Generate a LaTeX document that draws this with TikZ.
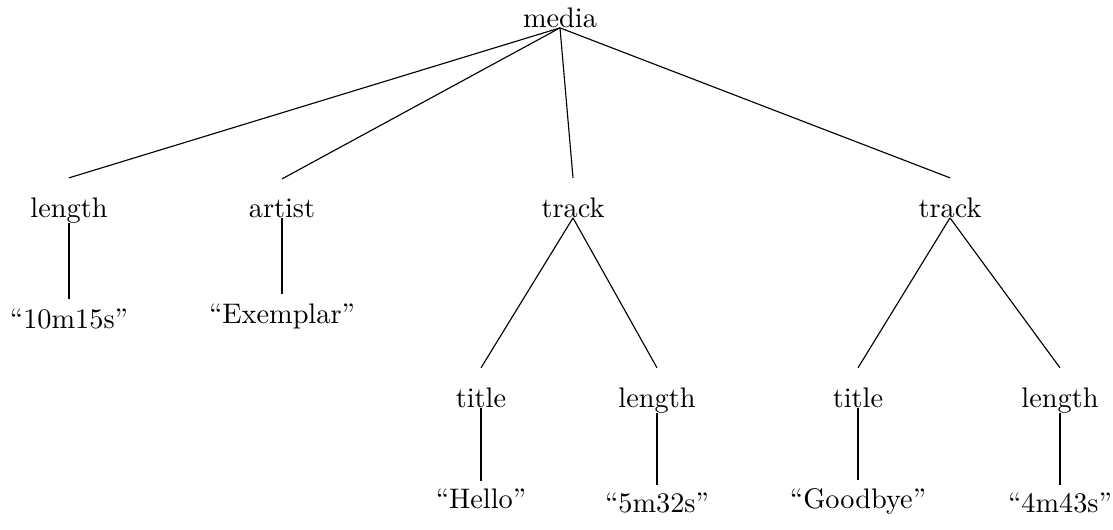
\documentclass[tikz,border=0pt]{standalone}
\begin{document}
\begin{tikzpicture}[x=0.3534pt,y=-0.3534pt,
  lbl/.style={inner sep=0pt, anchor=base},
  edge/.style={line width=0.4pt}]
\useasboundingbox (0,0) rectangle (1113,529);
% root
\node[lbl] (media) at (560,27) {media};
% level 1
\node[lbl] (len1)   at (69,217)  {length};
\node[lbl] (artist) at (282,217) {artist};
\node[lbl] (track1) at (573,217) {track};
\node[lbl] (track2) at (950,217) {track};
% leaves of level 1
\node[lbl] (v1) at (69,328)  {“10m15s”};
\node[lbl] (v2) at (282,323) {“Exemplar”};
% level 2
\node[lbl] (title1) at (481,407)  {title};
\node[lbl] (len2)   at (657,407)  {length};
\node[lbl] (title2) at (858,407)  {title};
\node[lbl] (len3)   at (1060,407) {length};
% leaves of level 2
\node[lbl] (v3) at (481,508)  {“Hello”};
\node[lbl] (v4) at (657,512)  {“5m32s”};
\node[lbl] (v5) at (858,508)  {“Goodbye”};
\node[lbl] (v6) at (1060,512) {“4m43s”};
% edges
\draw[edge] (media.south) -- ([yshift=6.7pt]len1.north);
\draw[edge] (media.south) -- ([yshift=6.7pt]artist.north);
\draw[edge] (media.south) -- ([yshift=6.7pt]track1.north);
\draw[edge] (media.south) -- ([yshift=6.7pt]track2.north);
\draw[edge] (len1.south) -- ([yshift=3pt]v1.north);
\draw[edge] (artist.south) -- ([yshift=3pt]v2.north);
\draw[edge] (track1.south) -- ([yshift=6.7pt]title1.north);
\draw[edge] (track1.south) -- ([yshift=6.7pt]len2.north);
\draw[edge] (track2.south) -- ([yshift=6.7pt]title2.north);
\draw[edge] (track2.south) -- ([yshift=6.7pt]len3.north);
\draw[edge] (title1.south) -- ([yshift=2.5pt]v3.north);
\draw[edge] (len2.south) -- ([yshift=2.5pt]v4.north);
\draw[edge] (title2.south) -- ([yshift=2.5pt]v5.north);
\draw[edge] (len3.south) -- ([yshift=2.5pt]v6.north);
\end{tikzpicture}
\end{document}
